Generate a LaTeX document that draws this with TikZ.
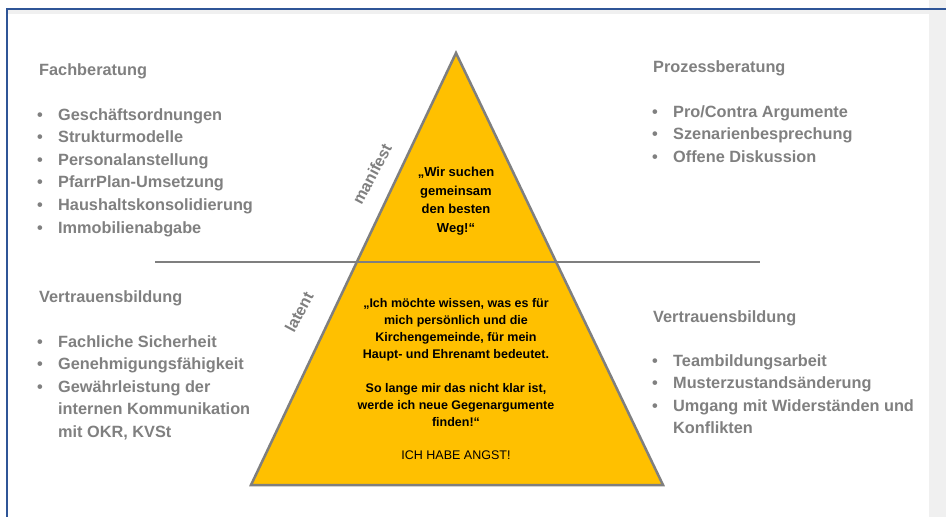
\documentclass[tikz,border=0pt]{standalone}
\usepackage{fontspec}
\setmainfont{Liberation Sans}
\usetikzlibrary{positioning}
\definecolor{pyrfill}{HTML}{FFC000}
\definecolor{pyrline}{HTML}{7F7F7F}
\definecolor{txtgray}{HTML}{808080}
\definecolor{frameblue}{HTML}{2F5597}
\definecolor{stripgray}{HTML}{F0F0F0}
\tikzset{
  heading/.style={anchor=base west, inner sep=0pt, text=txtgray, font=\bfseries\fontsize{16.3}{22.6}\selectfont},
  itemlist/.style={anchor=base west, inner sep=0pt, text=txtgray, font=\bfseries\fontsize{16.3}{22.6}\selectfont},
  edgelabel/.style={inner sep=0pt, text=txtgray, font=\bfseries\fontsize{16}{16}\selectfont, rotate=62},
  quotetext/.style={anchor=base, inner sep=0pt, align=center, font=\bfseries\fontsize{12.5}{17}\selectfont}
}
\newcommand{\bul}{\textbullet}
\begin{document}
\begin{tikzpicture}[x=1pt, y=-1pt]
\useasboundingbox (0, 0) rectangle (946, 517);
\fill[white] (0, 0) rectangle (946, 517);
\fill[stripgray] (929, 0) rectangle (946, 517);
\fill[black!6] (8, 10) rectangle (946, 14);
\draw[frameblue, line width=1.6] (7, 517) -- (7, 9) -- (946, 9);
%Pyramid
\coordinate (apex) at (456, 53);
\coordinate (bl) at (251, 485);
\coordinate (br) at (663, 485);
\draw[pyrline, fill=pyrfill, line width=2.5, line join=miter] (apex) -- (br) -- (bl) -- cycle;
\draw[pyrline, line width=2.5] (155, 262) -- (760, 262);
%Text
\node (fach) [heading] at (39, 75) {Fachberatung};
\node (fachlist) [itemlist] at (37, 120) {\begin{tabular}[t]{@{}p{21pt}@{}l@{}}
\bul & Geschäftsordnungen\\
\bul & Strukturmodelle\\
\bul & Personalanstellung\\
\bul & PfarrPlan-Umsetzung\\
\bul & Haushaltskonsolidierung\\
\bul & Immobilienabgabe
\end{tabular}};
\node (prozess) [heading] at (653, 72) {Prozessberatung};
\node (prozesslist) [itemlist] at (652, 117) {\begin{tabular}[t]{@{}p{21pt}@{}l@{}}
\bul & Pro/Contra Argumente\\
\bul & Szenarienbesprechung\\
\bul & Offene Diskussion
\end{tabular}};
\node (vertrauenl) [heading] at (39, 302) {Vertrauensbildung};
\node (vertrauenllist) [itemlist] at (37, 347) {\begin{tabular}[t]{@{}p{21pt}@{}l@{}}
\bul & Fachliche Sicherheit\\
\bul & Genehmigungsfähigkeit\\
\bul & Gewährleistung der\\
 & internen Kommunikation\\
 & mit OKR, KVSt
\end{tabular}};
\node (vertrauenr) [heading] at (653, 322) {Vertrauensbildung};
\node (vertrauenrlist) [itemlist] at (652, 366) {\begin{tabular}[t]{@{}p{21pt}@{}l@{}}
\bul & Teambildungsarbeit\\
\bul & Musterzustandsänderung\\
\bul & Umgang mit Widerständen und\\
 & Konflikten
\end{tabular}};
\node (manifest) [edgelabel] at (372, 174) {manifest};
\node (latent) [edgelabel] at (299, 312) {latent};
%base of a multi-line node is its last line
\node (wir) [quotetext, font=\bfseries\fontsize{13}{18.5}\selectfont] at (456, 232) {„Wir suchen\\gemeinsam\\den besten\\Weg!“};
\node (angst) [quotetext] at (456, 459) {„Ich möchte wissen, was es für\\mich persönlich und die\\Kirchengemeinde, für mein\\Haupt- und Ehrenamt bedeutet.\\[17pt]So lange mir das nicht klar ist,\\werde ich neue Gegenargumente\\finden!“\\[16pt]{\mdseries ICH HABE ANGST!}};
\end{tikzpicture}
\end{document}
